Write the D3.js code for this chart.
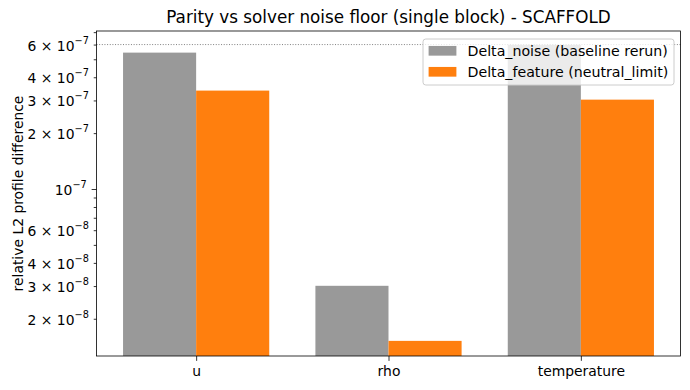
<!DOCTYPE html>
<html>
<head>
<meta charset="utf-8">
<script src="https://cdn.jsdelivr.net/npm/d3@7"></script>
<style>
body { margin: 0; background: #fff; }
text { font-family: "DejaVu Sans", sans-serif; }
</style>
</head>
<body>
<div id="chart"></div>
<script>
// values
const categories = ['u', 'rho', 'temperature'];
const noiseValues = [5.43e-7, 3.01e-8, 5.98e-7];
const featureValues = [3.39e-7, 1.52e-8, 3.03e-7];
const noiseFloor = 6.0e-7;
const seriesNames = ['Delta_noise (baseline rerun)', 'Delta_feature (neutral_limit)'];
const seriesColors = ['#999999', '#ff7f0e'];
// labelled y ticks: [mantissa, exponent]
const yTickLabels = [[2, -8], [3, -8], [4, -8], [6, -8], [1, -7], [2, -7], [3, -7], [4, -7], [6, -7]];

const width = 690, height = 390;
const plotL = 96.5, plotR = 680.5, plotT = 31, plotB = 356;
const barWidth = 0.38;
const fs = 13.9;

const svg = d3.select('#chart').append('svg')
	.attr('width', width)
	.attr('height', height);

const x = d3.scaleLinear()
	.domain([-0.518, 2.518])
	.range([plotL, plotR]);

const y = d3.scaleLog()
	.domain([1.26e-8, 7.1e-7])
	.range([plotB, plotT]);

// bars
const series = [noiseValues, featureValues];
series.forEach((vals, s) => {
	svg.append('g')
		.selectAll('rect')
		.data(vals)
		.join('rect')
		.attr('x', (d, i) => x(i + (s === 0 ? -barWidth : 0)))
		.attr('width', x(barWidth) - x(0))
		.attr('y', d => y(d))
		.attr('height', d => plotB - y(d))
		.attr('fill', seriesColors[s]);
});

// noise floor line
svg.append('line')
	.attr('x1', plotL).attr('x2', plotR)
	.attr('y1', y(noiseFloor)).attr('y2', y(noiseFloor))
	.attr('stroke', '#808080')
	.attr('stroke-width', 1)
	.attr('stroke-dasharray', '1,1.65');

// y minor ticks
const minorTicks = [];
[-8, -7].forEach(e => {
	for (let m = 2; m <= 9; m++) {
		const v = m * Math.pow(10, e);
		if (v >= y.domain()[0] && v <= y.domain()[1]) minorTicks.push(v);
	}
});

const yMinor = svg.append('g')
	.attr('transform', `translate(${plotL},0)`)
	.call(d3.axisLeft(y).tickValues(minorTicks).tickSize(2.78).tickFormat(''));
yMinor.select('.domain').remove();

const yMajor = svg.append('g')
	.attr('transform', `translate(${plotL},0)`)
	.call(d3.axisLeft(y).tickValues([1e-7]).tickSize(4.86).tickFormat(''));
yMajor.select('.domain').remove();

svg.selectAll('.tick line').attr('stroke', '#000').attr('stroke-width', 0.8);

// y tick labels with superscripts
const yLab = svg.append('g')
	.selectAll('text')
	.data(yTickLabels)
	.join('text')
	.attr('x', d => plotL - (d[0] === 1 ? 4.86 : 2.78) - 4.86)
	.attr('y', d => y(d[0] * Math.pow(10, d[1])) + 6)
	.attr('text-anchor', 'end')
	.attr('font-size', fs)
	.attr('fill', '#000')
	.attr('xml:space', 'preserve');
yLab.append('tspan')
	.text(d => d[0] === 1 ? '10' : d[0] + ' \u00d7 10');
yLab.append('tspan')
	.attr('dy', -7)
	.attr('font-size', fs * 0.7)
	.text(d => '\u2212' + Math.abs(d[1]));

// x axis
const xAxis = svg.append('g')
	.attr('transform', `translate(0,${plotB})`)
	.call(d3.axisBottom(x).tickValues([0, 1, 2]).tickSize(4.86).tickPadding(4.86).tickFormat(i => categories[i]));
xAxis.select('.domain').remove();
xAxis.selectAll('line').attr('stroke', '#000').attr('stroke-width', 0.8);
xAxis.selectAll('text')
	.attr('font-size', fs)
	.attr('font-family', '"DejaVu Sans", sans-serif')
	.attr('fill', '#000');

// spines
svg.append('rect')
	.attr('x', plotL).attr('y', plotT)
	.attr('width', plotR - plotL).attr('height', plotB - plotT)
	.attr('fill', 'none')
	.attr('stroke', '#000')
	.attr('stroke-width', 0.8);

// title
svg.append('text')
	.attr('x', (plotL + plotR) / 2)
	.attr('y', 23)
	.attr('text-anchor', 'middle')
	.attr('font-size', 16.8)
	.text('Parity vs solver noise floor (single block) - SCAFFOLD');

// y label
svg.append('text')
	.attr('transform', `translate(18,${(plotT + plotB) / 2}) rotate(-90)`)
	.attr('text-anchor', 'middle')
	.attr('dy', '0.35em')
	.attr('font-size', fs)
	.text('relative L2 profile difference');

// legend
const legend = svg.append('g');
legend.append('rect')
	.attr('x', 423).attr('y', 39)
	.attr('width', 251).attr('height', 46)
	.attr('rx', 2.8)
	.attr('fill', '#fff').attr('fill-opacity', 0.8)
	.attr('stroke', '#cccccc').attr('stroke-width', 1);
const rows = legend.selectAll('g.row')
	.data(seriesNames)
	.join('g')
	.attr('class', 'row')
	.attr('transform', (d, i) => `translate(428.6,${50.8 + i * 21})`);
rows.append('rect')
	.attr('x', 0).attr('y', -4.85)
	.attr('width', 27.8).attr('height', 9.7)
	.attr('fill', (d, i) => seriesColors[i]);
rows.append('text')
	.attr('x', 38.9)
	.attr('dy', '0.35em')
	.attr('font-size', 14.2)
	.text(d => d);
</script>
</body>
</html>
